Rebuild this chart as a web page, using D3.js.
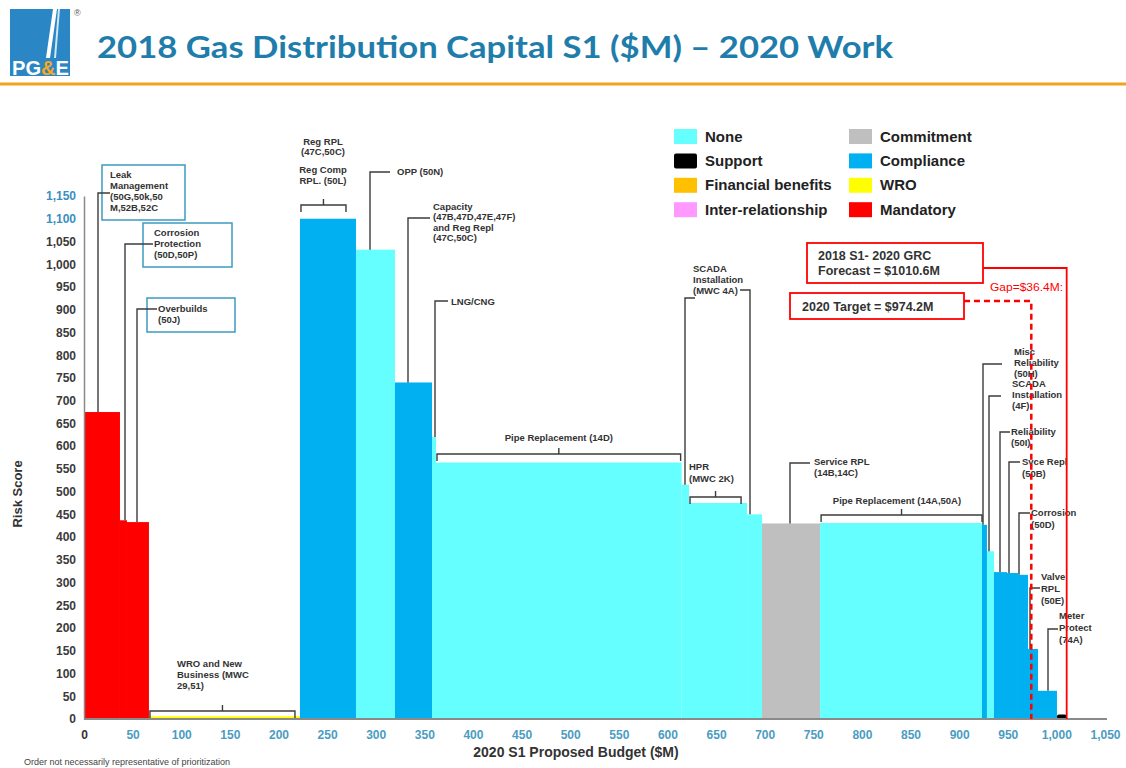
<!DOCTYPE html>
<html lang="en">
<head>
<meta charset="utf-8">
<title>2018 Gas Distribution Capital S1 ($M) – 2020 Work</title>
<script src="https://d3js.org/d3.v7.min.js"></script>
<style>
  body { margin: 0; background: #fff; }
  svg { display: block; font-family: "Liberation Sans", Arial, sans-serif; }
</style>
</head>
<body>
<div id="chart"></div>
<script>
// programs in plotted order (left to right)
const programs = [
  "Leak Management", "Corrosion Protection", "Overbuilds", "WRO and New Business",
  "Reg RPL / Reg Comp RPL", "OPP", "Capacity and Reg Repl", "LNG/CNG",
  "Pipe Replacement (14D)", "SCADA Installation (MWC 4A)", "HPR (MWC 2K)", "SCADA Installation (MWC 4A) b",
  "Service RPL", "Pipe Replacement (14A,50A)", "Misc Reliability", "SCADA Installation (4F)",
  "Reliability (50I)", "Svce Repl (50B)", "Corrosion (50D)", "Valve RPL (50E)",
  "Meter Protect (74A)", "Support"
];
// 2020 S1 proposed budget, $M (bar widths)
const budgets = [
  37.0, 7.2, 22.6, 155.3,
  57.6, 40.1, 38.1, 4.1,
  252.6, 7.6, 59.7, 15.4,
  59.7, 166.5, 5.1, 7.2,
  13.4, 11.3, 10.3, 10.3,
  19.5, 10.0
];
// risk score (bar heights)
const scores = [
  675, 437, 433, 6,
  1100, 1032, 740, 620,
  564, 515, 475, 450,
  430, 431, 427, 369,
  323, 321, 317, 154,
  62, 10
];
const drivers = [
  "Mandatory", "Mandatory", "Mandatory", "WRO",
  "Compliance", "None", "Compliance", "None",
  "None", "None", "None", "None",
  "Commitment", "None", "Compliance", "None",
  "Compliance", "Compliance", "Compliance", "Compliance",
  "Compliance", "Support"
];
const driverNames = ["None", "Support", "Financial benefits", "Inter-relationship",
  "Commitment", "Compliance", "WRO", "Mandatory"];
const driverColors = ["#66ffff", "#000000", "#ffc000", "#ff99ff",
  "#bfbfbf", "#00b0f0", "#ffff00", "#ff0000"];
const budgetTicks = [0, 50, 100, 150, 200, 250, 300, 350, 400, 450, 500, 550,
  600, 650, 700, 750, 800, 850, 900, 950, 1000, 1050];
const scoreTicks = [0, 50, 100, 150, 200, 250, 300, 350, 400, 450, 500, 550,
  600, 650, 700, 750, 800, 850, 900, 950, 1000, 1050, 1100, 1150];
const forecastTotal = 1010.6;
const targetTotal = 974.2;

const chart = (selector) => {
  const width = 1126, height = 768;
  const svg = d3.select(selector).append("svg")
    .attr("width", width).attr("height", height);

  const x = d3.scaleLinear().domain([0, 1050]).range([84, 1105]);
  const y = d3.scaleLinear().domain([0, 1150]).range([719, 196]);
  const color = d3.scaleOrdinal().domain(driverNames).range(driverColors);

  const ends = Array.from(d3.cumsum(budgets));
  const bars = programs.map((p, i) => ({
    name: p, x0: ends[i] - budgets[i], x1: ends[i], score: scores[i], driver: drivers[i]
  }));

  // header
  const logo = svg.append("g");
  logo.append("rect").attr("x", 10).attr("y", 9).attr("width", 60).attr("height", 67).attr("fill", "#2a86c4");
  logo.append("path").attr("d", "M53,9 L57,9 L50,58 L46,58 Z").attr("fill", "#fff");
  logo.append("path").attr("d", "M58,9 L60,9 L56,58 L54,58 Z").attr("fill", "#cfe6f5");
  const lt = logo.append("text").attr("x", 12).attr("y", 75)
    .attr("font-size", 20).attr("font-weight", "bold").attr("fill", "#fff")
    .attr("textLength", 57).attr("lengthAdjust", "spacingAndGlyphs");
  lt.append("tspan").text("PG");
  lt.append("tspan").attr("fill", "#f7a823").text("&");
  lt.append("tspan").text("E");
  svg.append("text").attr("x", 74).attr("y", 16).attr("font-size", 9).attr("fill", "#555").text("®");

  svg.append("text")
    .attr("x", 97).attr("y", 58)
    .attr("font-family", "Lato, 'Open Sans', sans-serif")
    .attr("font-size", 30).attr("font-weight", "bold")
    .attr("fill", "#1f7dab")
    .attr("textLength", 796).attr("lengthAdjust", "spacingAndGlyphs")
    .text("2018 Gas Distribution Capital S1 ($M) \u2013 2020 Work");

  svg.append("line").attr("x1", 0).attr("x2", width).attr("y1", 84).attr("y2", 84)
    .attr("stroke", "#f2a31b").attr("stroke-width", 3);

  // bars
  svg.append("g").selectAll("rect").data(bars).join("rect")
    .attr("x", d => x(d.x0))
    .attr("width", d => x(d.x1) - x(d.x0))
    .attr("y", d => y(d.score))
    .attr("height", d => y(0) - y(d.score))
    .attr("rx", d => d.driver === "Support" ? 2 : 0)
    .attr("fill", d => color(d.driver));

  // axes
  const xAxis = svg.append("g").attr("transform", `translate(0,${y(0)})`)
    .call(d3.axisBottom(x).tickValues(budgetTicks).tickSize(0).tickPadding(11).tickFormat(d3.format(",")));
  xAxis.select(".domain").attr("stroke", "#8a8a8a").attr("stroke-width", 2).attr("d", `M${x(0)},0H1107`);
  xAxis.selectAll(".tick text")
    .attr("font-size", 12).attr("font-weight", "bold")
    .attr("font-family", "'Liberation Sans', Arial, sans-serif")
    .attr("fill", d => d === 0 ? "#333" : "#4a9cc2");

  const yAxis = svg.append("g").attr("transform", `translate(${x(0)},0)`)
    .call(d3.axisLeft(y).tickValues(scoreTicks).tickSize(0).tickPadding(8).tickFormat(d3.format(",")));
  yAxis.select(".domain").attr("stroke", "#8a8a8a").attr("stroke-width", 1.5);
  yAxis.selectAll(".tick text")
    .attr("font-size", 12).attr("font-weight", "bold")
    .attr("font-family", "'Liberation Sans', Arial, sans-serif")
    .attr("fill", d => d >= 1100 ? "#3a8fc0" : "#3a3a3a");

  svg.append("text").attr("transform", "translate(22,494) rotate(-90)")
    .attr("text-anchor", "middle").attr("font-size", 13).attr("font-weight", "bold").attr("fill", "#333")
    .text("Risk Score");
  svg.append("text").attr("x", 576).attr("y", 757)
    .attr("text-anchor", "middle").attr("font-size", 14).attr("font-weight", "bold").attr("fill", "#333")
    .text("2020 S1 Proposed Budget ($M)");
  svg.append("text").attr("x", 24).attr("y", 765)
    .attr("font-size", 9).attr("fill", "#444")
    .text("Order not necessarily representative of prioritization");

  // annotations
  const ann = svg.append("g").attr("font-size", 9.5).attr("font-weight", "bold").attr("fill", "#333");
  const lineColor = "#3c3c3c";

  const addText = (tx, baselines, lines, anchor) => {
    lines.forEach((t, k) => {
      ann.append("text").attr("x", tx).attr("y", baselines[k])
        .attr("text-anchor", anchor || "start").text(t);
    });
  };

  // elbow leaders: label -> bar top
  const elbows = [
    { bar: 0, lx: 98, hy: 193, hx: 110, tx: 110, ty: [178, 189, 200, 211],
      lines: ["Leak", "Management", "(50G,50k,50", "M,52B,52C"], box: [102, 165, 83, 55] },
    { bar: 1, lx: 125, hy: 244, hx: 153, tx: 154, ty: [236, 247, 258],
      lines: ["Corrosion", "Protection", "(50D,50P)"], box: [143, 223, 89, 44] },
    { bar: 2, lx: 137, hy: 309, hx: 157, tx: 158, ty: [312, 323],
      lines: ["Overbuilds", "(50J)"], box: [147, 298, 88, 34] },
    { bar: 5, lx: 370, hy: 172, hx: 390, tx: 397, ty: [175], lines: ["OPP (50N)"] },
    { bar: 6, lx: 408, hy: 218, hx: 430, tx: 433, ty: [210, 220, 231, 241],
      lines: ["Capacity", "(47B,47D,47E,47F)", "and Reg Repl", "(47C,50C)"] },
    { bar: 7, lx: 435, hy: 301, hx: 448, tx: 451, ty: [305], lines: ["LNG/CNG"] },
    { bar: 9, lx: 685, hy: 298, hx: 695, tx: 693, ty: [272, 283, 294],
      lines: ["SCADA", "Installation", "(MWC 4A)"] },
    { bar: 11, lx: 750, hy: 290, hx: 740 },
    { bar: 12, lx: 790, hy: 463, hx: 810, tx: 814, ty: [465, 476], lines: ["Service RPL", "(14B,14C)"] },
    { bar: 14, lx: 983, hy: 364, hx: 1002, tx: 1014, ty: [355, 366, 377],
      lines: ["Misc", "Reliability", "(50H)"] },
    { bar: 15, lx: 989, hy: 396, hx: 1001, tx: 1012, ty: [387, 398, 409],
      lines: ["SCADA", "Installation", "(4F)"] },
    { bar: 16, lx: 1000, hy: 432, hx: 1010, tx: 1011, ty: [435, 446], lines: ["Reliability", "(50I)"] },
    { bar: 17, lx: 1009, hy: 462, hx: 1020, tx: 1022, ty: [465, 477], lines: ["Svce Repl", "(50B)"] },
    { bar: 18, lx: 1019, hy: 513, hx: 1030, tx: 1031, ty: [516, 528], lines: ["Corrosion", "(50D)"] },
    { bar: 19, lx: 1030, hy: 588, hx: 1040, tx: 1041, ty: [580, 592, 604], lines: ["Valve", "RPL", "(50E)"] },
    { bar: 20, lx: 1048, hy: 629, hx: 1058, tx: 1059, ty: [619, 631, 643], lines: ["Meter", "Protect", "(74A)"] }
  ];

  elbows.forEach(e => {
    if (e.box) {
      ann.append("rect").attr("x", e.box[0]).attr("y", e.box[1])
        .attr("width", e.box[2]).attr("height", e.box[3])
        .attr("fill", "#fff").attr("stroke", "#3b9bc2").attr("stroke-width", 1.5);
    }
  });
  elbows.forEach(e => {
    ann.append("path")
      .attr("d", `M${e.hx},${e.hy}H${e.lx}V${y(bars[e.bar].score)}`)
      .attr("fill", "none").attr("stroke", lineColor).attr("stroke-width", 1.4);
    if (e.lines) addText(e.tx, e.ty, e.lines);
  });

  // brackets over bars
  const brackets = [
    { bar: 4, trim: 10, by: 205, tx: 323, ty: [145, 155, 173, 184],
      lines: ["Reg RPL", "(47C,50C)", "Reg Comp", "RPL. (50L)"], anchor: "middle" },
    { bar: 8, trim: 1, by: 454, tx: null, ty: [441], lines: ["Pipe Replacement (14D)"], anchor: "middle" },
    { bar: 10, trim: 6, by: 497, tx: 689, ty: [470, 482], lines: ["HPR", "(MWC 2K)"] },
    { bar: 13, trim: 0, by: 515, tx: 897, ty: [504], lines: ["Pipe Replacement (14A,50A)"], anchor: "middle" },
    { bar: 3, trim: 5, by: 711, tx: 177, ty: [667, 678, 689], lines: ["WRO and New", "Business (MWC", "29,51)"] }
  ];
  brackets.forEach(b => {
    const x0 = x(bars[b.bar].x0) + 1;
    const x1 = x(bars[b.bar].x1) - b.trim;
    const cx = (x0 + x1) / 2;
    ann.append("path")
      .attr("d", `M${x0},${b.by + 7}V${b.by}H${x1}V${b.by + 7}M${cx},${b.by}V${b.by - 6}`)
      .attr("fill", "none").attr("stroke", lineColor).attr("stroke-width", 1.4);
    addText(b.tx == null ? cx : b.tx, b.ty, b.lines, b.anchor);
  });

  // legend
  const legend = svg.append("g").attr("font-size", 15).attr("font-weight", "bold").attr("fill", "#222");
  driverNames.forEach((name, i) => {
    const col = Math.floor(i / 4), row = i % 4;
    const lx = col === 0 ? 674 : 849;
    const ly = 129 + row * 24.4;
    legend.append("rect").attr("x", lx).attr("y", ly).attr("width", 23).attr("height", 15)
      .attr("rx", name === "Support" ? 2 : 0).attr("fill", color(name));
    legend.append("text").attr("x", lx + 31).attr("y", ly + 12.5).text(name);
  });

  // forecast / target markers
  const red = "#ff0000";
  svg.append("path").attr("d", `M983,268H${x(forecastTotal)}V${y(0)}`)
    .attr("fill", "none").attr("stroke", red).attr("stroke-width", 1.8);
  svg.append("path").attr("d", `M964,301H${x(targetTotal)}V${y(0)}`)
    .attr("fill", "none").attr("stroke", red).attr("stroke-width", 2.5).attr("stroke-dasharray", "6,4");
  svg.append("rect").attr("x", 807).attr("y", 243).attr("width", 176).attr("height", 40)
    .attr("fill", "#fff").attr("stroke", red).attr("stroke-width", 1.8);
  svg.append("rect").attr("x", 790).attr("y", 293).attr("width", 174).attr("height", 26)
    .attr("fill", "#fff").attr("stroke", red).attr("stroke-width", 1.8);
  const rt = svg.append("g").attr("font-size", 12.5).attr("font-weight", "bold").attr("fill", "#333");
  rt.append("text").attr("x", 818).attr("y", 260).text("2018 S1- 2020 GRC");
  rt.append("text").attr("x", 818).attr("y", 275).text(`Forecast = $${forecastTotal}M`);
  rt.append("text").attr("x", 802).attr("y", 311).text(`2020 Target = $${targetTotal}M`);
  svg.append("text").attr("x", 990).attr("y", 291).attr("font-size", 11.5).attr("fill", red)
    .attr("textLength", 73).attr("lengthAdjust", "spacingAndGlyphs")
    .text(`Gap=$${(forecastTotal - targetTotal).toFixed(1)}M:`);
};

chart("#chart");
</script>
</body>
</html>
